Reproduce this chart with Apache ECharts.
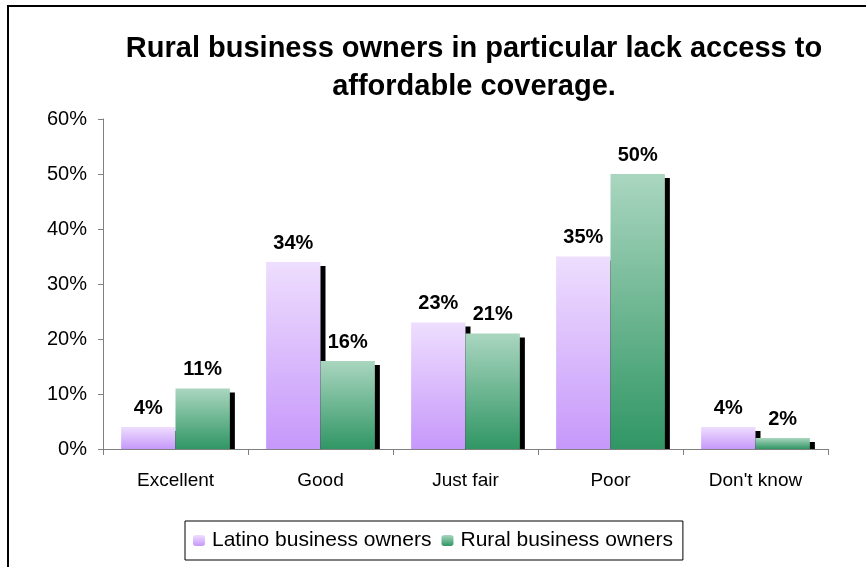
<!DOCTYPE html>
<html>
<head>
<meta charset="utf-8">
<script src="https://cdn.jsdelivr.net/npm/echarts@6/dist/echarts.min.js"></script>
<style>
html,body{margin:0;padding:0;background:#fff;}
#chart{width:866px;height:567px;}
</style>
</head>
<body>
<div id="chart"></div>
<script>
var categories = ["Excellent", "Good", "Just fair", "Poor", "Don't know"];
var latinoValues = [4, 34, 23, 35, 4];
var ruralValues = [11, 16, 21, 50, 2];
var seriesNames = ["Latino business owners", "Rural business owners"];
var titleText = "Rural business owners in particular lack access to\naffordable coverage.";

var chart = echarts.init(document.getElementById('chart'), null, {renderer: 'canvas'});

function grad(top, bottom) {
  return new echarts.graphic.LinearGradient(0, 0, 0, 1, [
    {offset: 0, color: top},
    {offset: 1, color: bottom}
  ]);
}

var FONT = 'Liberation Sans, Arial, sans-serif';

var labelStyle = {
  show: true,
  position: 'top',
  distance: 9,
  formatter: '{c}%',
  fontFamily: FONT,
  fontWeight: 'bold',
  fontSize: 20,
  color: '#000'
};

var option = {
  backgroundColor: '#fff',
  animation: false,
  title: {
    text: titleText,
    left: 469,
    textAlign: 'center',
    top: 25,
    textStyle: {
      fontFamily: FONT,
      fontWeight: 'bold',
      fontSize: 29,
      lineHeight: 38,
      color: '#000'
    }
  },
  graphic: [{
    type: 'rect',
    shape: {x: 8, y: 6, width: 900, height: 600},
    style: {fill: 'none', stroke: '#000', lineWidth: 2},
    z: -10
  }, {
    type: 'rect',
    shape: {x: 104, y: 450, width: 740, height: 8},
    style: {fill: '#fff'},
    z: 5
  }],
  legend: {
    data: seriesNames,
    left: 185,
    top: 521,
    orient: 'horizontal',
    itemWidth: 12,
    itemHeight: 11,
    itemGap: 10,
    padding: [9, 10, 9, 8],
    borderColor: '#000',
    borderWidth: 1,
    textStyle: {
      fontFamily: FONT,
      fontSize: 21,
      color: '#000',
      padding: [0, 0, 0, 2]
    }
  },
  grid: {
    left: 103,
    right: 866 - 828,
    top: 119,
    bottom: 567 - 449,
    containLabel: false
  },
  xAxis: {
    type: 'category',
    data: categories,
    z: 10,
    axisLine: {lineStyle: {color: '#808080', width: 1}},
    axisTick: {show: true, length: 6, lineStyle: {color: '#808080'}},
    axisLabel: {
      fontFamily: FONT,
      fontSize: 19,
      color: '#000',
      margin: 22
    },
    splitLine: {show: false}
  },
  yAxis: {
    type: 'value',
    min: 0,
    max: 60,
    interval: 10,
    z: 10,
    axisLine: {show: true, lineStyle: {color: '#808080', width: 1}},
    axisTick: {show: true, length: 5, lineStyle: {color: '#808080'}},
    axisLabel: {
      formatter: '{value}%',
      fontFamily: FONT,
      fontSize: 20,
      color: '#000',
      margin: 16
    },
    splitLine: {show: false}
  },
  series: [
    {
      name: seriesNames[0],
      type: 'bar',
      data: latinoValues,
      barGap: '0%',
      barCategoryGap: '25%',
      itemStyle: {
        color: grad('#EEDEFE', '#C698FA'),
        shadowColor: '#000',
        shadowBlur: 0,
        shadowOffsetX: 5,
        shadowOffsetY: 4
      },
      label: labelStyle
    },
    {
      name: seriesNames[1],
      type: 'bar',
      data: ruralValues,
      barGap: '0%',
      barCategoryGap: '25%',
      itemStyle: {
        color: grad('#AAD6C0', '#309664'),
        shadowColor: '#000',
        shadowBlur: 0,
        shadowOffsetX: 5,
        shadowOffsetY: 4
      },
      label: labelStyle
    }
  ]
};

chart.setOption(option);
</script>
</body>
</html>
